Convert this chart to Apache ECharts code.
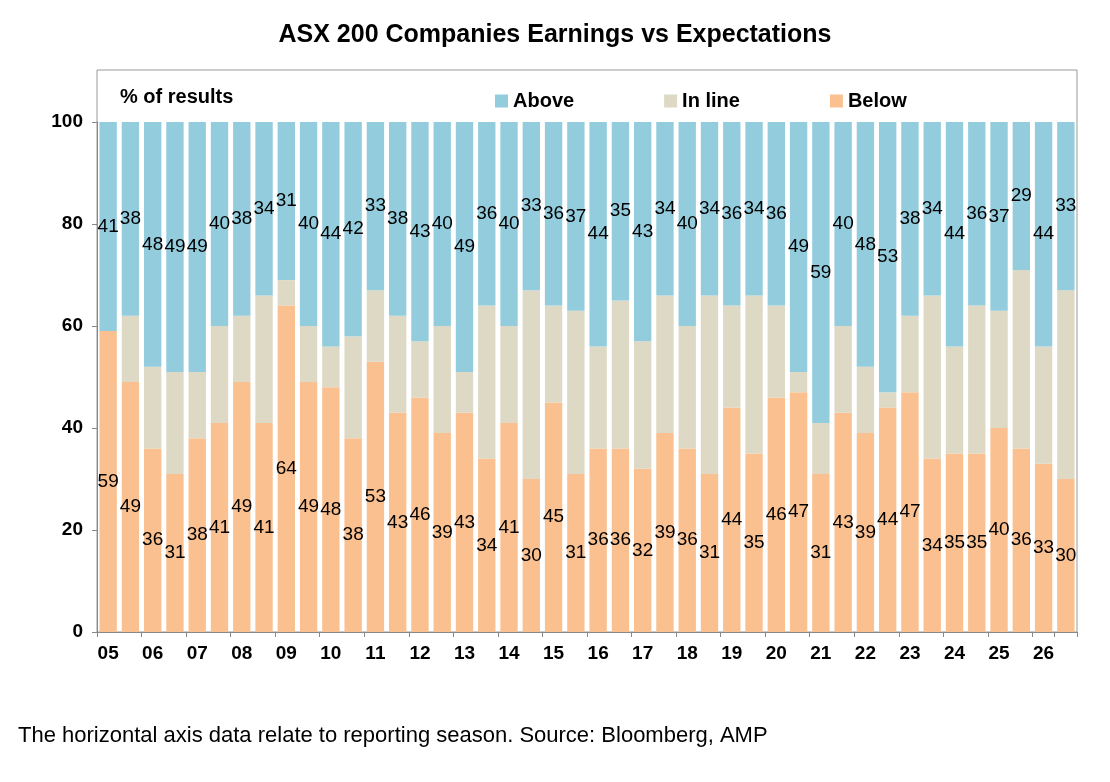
<!DOCTYPE html>
<html lang="en">
<head>
<meta charset="UTF-8">
<title>ASX 200 Earnings vs Expectations</title>
<script src="https://cdn.jsdelivr.net/npm/echarts@6/dist/echarts.min.js"></script>
<style>
html, body { margin: 0; width: 100%; height: 100%; background: #fff; font-family: Arial, "Liberation Sans", sans-serif; }
#main { width: 1110px; height: 782px; }
</style>
</head>
<body>
<div id="main"></div>
<script>
var years = ['05','06','07','08','09','10','11','12','13','14','15','16','17','18','19','20','21','22','23','24','25','26'];
var below = [59,49,36,31,38,41,49,41,64,49,48,38,53,43,46,39,43,34,41,30,45,31,36,36,32,39,36,31,44,35,46,47,31,43,39,44,47,34,35,35,40,36,33,30];
var above = [41,38,48,49,49,40,38,34,31,40,44,42,33,38,43,40,49,36,40,33,36,37,44,35,43,34,40,34,36,34,36,49,59,40,48,53,38,34,44,36,37,29,44,33];

var categories = [];
years.forEach(function (y) { categories.push(y); categories.push(''); });
var inline = below.map(function (b, i) { return 100 - b - above[i]; });

var myChart = echarts.init(document.getElementById('main'));
var lbl = { show: true, position: 'inside', color: '#000', fontSize: 19, fontFamily: 'Arial' };
myChart.setOption({
    animation: false,
    title: {
        text: 'ASX 200 Companies Earnings vs Expectations',
        left: 'center', top: 18,
        textStyle: { fontSize: 25, fontWeight: 'bold', color: '#000', fontFamily: 'Arial' }
    },
    graphic: [
        { type: 'text', left: 120, top: 87, style: { text: '% of results', fontSize: 20, fontWeight: 'bold', fill: '#000', font: 'bold 20px Arial' } },
        { type: 'text', left: 18, top: 725, style: { text: 'The horizontal axis data relate to reporting season. Source: Bloomberg, AMP', font: '22px Arial', fill: '#000' } },
        { type: 'rect', shape: { x: 97, y: 70, width: 980, height: 562 }, style: { fill: 'none', stroke: '#999', lineWidth: 1 }, silent: true }
    ],
    legend: {
        data: ['Above', 'In line', 'Below'],
        top: 86, left: 490, itemGap: 90,
        itemWidth: 13, itemHeight: 13, icon: 'rect',
        textStyle: { fontSize: 20, fontWeight: 'bold', color: '#000', fontFamily: 'Arial' }
    },
    grid: { left: 97, right: 33, top: 122, bottom: 150, containLabel: false },
    xAxis: {
        type: 'category', data: categories,
        axisTick: { show: true, interval: 1, alignWithLabel: false, lineStyle: { color: '#888' } },
        axisLine: { lineStyle: { color: '#888' } },
        axisLabel: { interval: 0, color: '#000', fontSize: 19, fontWeight: 'bold', fontFamily: 'Arial', margin: 12 }
    },
    yAxis: {
        type: 'value', min: 0, max: 100, interval: 20,
        splitLine: { show: false },
        axisLine: { show: true, lineStyle: { color: '#888' } },
        axisTick: { show: true, lineStyle: { color: '#888' } },
        axisLabel: { color: '#000', fontSize: 19, fontWeight: 'bold', fontFamily: 'Arial', margin: 14 }
    },
    series: [
        { name: 'Below', type: 'bar', stack: 's', data: below, barCategoryGap: '22%', itemStyle: { color: '#fac090' }, label: lbl },
        { name: 'In line', type: 'bar', stack: 's', data: inline, itemStyle: { color: '#ddd9c4' } },
        { name: 'Above', type: 'bar', stack: 's', data: above, itemStyle: { color: '#93cddd' }, label: lbl }
    ]
});
</script>
</body>
</html>
